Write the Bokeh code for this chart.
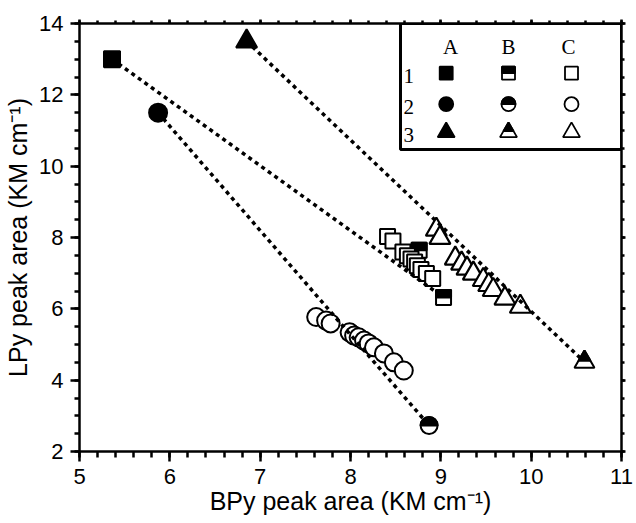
import numpy as np
from bokeh.plotting import figure
from bokeh.models import LinearAxis, SingleIntervalTicker, Range1d, CustomJSTickFormatter
from bokeh.core.properties import value
from bokeh.embed import file_html
from bokeh.resources import INLINE

# Series 1 = squares, 2 = circles, 3 = triangles
# A: starting point, B: end point, C: intermediate points
a_x = [5.36, 5.87, 6.85]
a_y = [13.00, 11.50, 13.50]

b_x = [9.03, 8.87, 10.59]
b_y = [6.32, 2.73, 4.51]

# extra end-type point of series 1 inside the open-square cluster
b1_mid_x = [8.76]
b1_mid_y = [7.64]

c1_x = [8.41, 8.47, 8.58, 8.63, 8.67, 8.71, 8.74, 8.78, 8.84, 8.91]
c1_y = [8.03, 7.90, 7.59, 7.49, 7.40, 7.31, 7.21, 7.10, 6.99, 6.85]

c2_x = [7.62, 7.73, 7.78, 7.99, 8.04, 8.09, 8.15, 8.20, 8.26, 8.37, 8.48, 8.59]
c2_y = [5.77, 5.67, 5.59, 5.34, 5.25, 5.20, 5.11, 5.03, 4.92, 4.75, 4.50, 4.27]

c3_x = [8.95, 8.99, 9.16, 9.23, 9.29, 9.36, 9.47, 9.53, 9.58, 9.71, 9.88]
c3_y = [8.22, 7.99, 7.41, 7.27, 7.13, 6.99, 6.81, 6.67, 6.53, 6.29, 6.06]

legend_cols = ["A", "B", "C"]
legend_rows = ["1", "2", "3"]
row_markers = ["square", "circle", "triangle"]

x_label = "BPy peak area (KM cm\u207b\u00b9)"
y_label = "LPy peak area (KM cm\u207b\u00b9)"

# ---------------------------------------------------------------- figure
FW, FH = 542, 428
X_LO, X_HI, Y_LO, Y_HI = 5, 11, 2, 14
SX = (X_HI - X_LO) / FW   # data units per screen pixel
SY = (Y_HI - Y_LO) / FH

p = figure(frame_width=FW, frame_height=FH,
           x_range=Range1d(X_LO, X_HI), y_range=Range1d(Y_LO, Y_HI),
           output_backend="svg", toolbar_location=None,
           min_border_left=79, min_border_right=15,
           min_border_top=23, min_border_bottom=72,
           background_fill_color="white", border_fill_color="white")
p.outline_line_color = None
p.grid.visible = False

SANS = "Liberation Sans"
KEY_FONT = "Liberation Serif"


def x_ticker():
    return SingleIntervalTicker(interval=1, num_minor_ticks=5)


def y_ticker():
    return SingleIntervalTicker(interval=2, num_minor_ticks=4)


def style_axis(ax, major_out, minor_out, labels=True, standoff=7):
    ax.axis_line_width = 2.5
    ax.axis_line_color = "black"
    ax.major_tick_line_width = 2.5
    ax.minor_tick_line_width = 2.5
    ax.major_tick_line_color = "black"
    ax.minor_tick_line_color = "black"
    ax.major_tick_in = 0
    ax.minor_tick_in = 0
    ax.major_tick_out = major_out
    ax.minor_tick_out = minor_out
    if labels:
        ax.major_label_text_font = SANS
        ax.major_label_text_font_size = "22px"
        ax.major_label_text_color = "black"
        ax.major_label_standoff = standoff
        ax.axis_label_text_font = SANS
        ax.axis_label_text_font_size = "25px"
        ax.axis_label_text_font_style = "normal"
        ax.axis_label_text_color = "black"
    else:
        # mirror axis: ticks only
        ax.formatter = CustomJSTickFormatter(code="return ''")
        ax.major_label_standoff = 0


xa = p.xaxis[0]
xa.ticker = x_ticker()
xa.axis_label = x_label
style_axis(xa, 10, 6, standoff=7)
xa.axis_label_standoff = 0

ya = p.yaxis[0]
ya.ticker = y_ticker()
ya.axis_label = y_label
style_axis(ya, 9, 5, standoff=7)
ya.axis_label_standoff = 4

top_ax = LinearAxis(ticker=x_ticker())
style_axis(top_ax, 4, 3, labels=False)
p.add_layout(top_ax, "above")

right_ax = LinearAxis(ticker=y_ticker())
style_axis(right_ax, 4, 3, labels=False)
p.add_layout(right_ax, "right")


# ---------------------------------------------------------------- markers
def draw_marker(kind, style, xs, ys, size, lw):
    """style 'A' = filled, 'B' = upper half filled, 'C' = open."""
    fill = "black" if style == "A" else "white"
    p.scatter(list(xs), list(ys), marker=kind, size=size,
              fill_color=fill, line_color="black", line_width=lw)
    if style != "B":
        return
    r = size / 2
    if kind == "circle":
        p.wedge(x=list(xs), y=list(ys), radius=r, radius_units="screen",
                start_angle=0, end_angle=np.pi,
                fill_color="black", line_color="black", line_width=lw)
    elif kind == "square":
        pxs = [[x - r * SX, x + r * SX, x + r * SX, x - r * SX] for x in xs]
        pys = [[y, y, y + r * SY, y + r * SY] for y in ys]
        p.patches(pxs, pys, fill_color="black", line_color="black", line_width=lw)
    elif kind == "triangle":
        h = r * np.sqrt(3)
        f = 0.6
        apex = 2 * h / 3
        lvl = apex - f * h
        pxs = [[x, x - f * r * SX, x + f * r * SX] for x in xs]
        pys = [[y + apex * SY, y + lvl * SY, y + lvl * SY] for y in ys]
        p.patches(pxs, pys, fill_color="black", line_color="black", line_width=lw)


# open intermediate points
draw_marker("square", "B", b1_mid_x, b1_mid_y, 15, 2.0)
draw_marker("square", "C", c1_x, c1_y, 15, 2.0)
draw_marker("circle", "C", c2_x, c2_y, 18, 2.0)
draw_marker("triangle", "C", c3_x, c3_y, 21, 2.2)

# dotted connections from start to end point of each series
p.multi_line(xs=[[a_x[i], b_x[i]] for i in range(3)],
             ys=[[a_y[i], b_y[i]] for i in range(3)],
             line_color="black", line_width=3.5, line_dash="4 4")

# start and end points
sizes = {"square": 16, "circle": 18, "triangle": 21}
for i, kind in enumerate(row_markers):
    draw_marker(kind, "A", [a_x[i]], [a_y[i]], sizes[kind], 2.0)
    draw_marker(kind, "B", [b_x[i]], [b_y[i]], sizes[kind] - 1, 2.0)


# ---------------------------------------------------------------- key table
def dx(px):
    return X_LO + px * SX


def dy(py):
    return Y_HI - py * SY


box_left, box_bottom = 321, 126
p.quad(left=[dx(box_left)], right=[X_HI], top=[Y_HI], bottom=[dy(box_bottom)],
       fill_color="white", line_color="black", line_width=3)

col_px = [366.7, 429.0, 492.0]
head_px = [371.0, 429.0, 489.0]
row_py = [49.7, 80.7, 108.7]

p.text(x=[dx(v) for v in head_px], y=[dy(23.7)] * 3, text=legend_cols,
       text_font=value(KEY_FONT), text_font_size="21px", text_color="black",
       text_align="center", text_baseline="middle")
p.text(x=[dx(box_left + 3)] * 3, y=[dy(v + 3) for v in row_py], text=legend_rows,
       text_font=value(KEY_FONT), text_font_size="21px", text_color="black",
       text_align="left", text_baseline="middle")

key_sizes = {"square": 13, "circle": 14, "triangle": 17}
for r_i, kind in enumerate(row_markers):
    for c_i, style in enumerate(legend_cols):
        draw_marker(kind, style, [dx(col_px[c_i])], [dy(row_py[r_i])],
                    key_sizes[kind], 1.8)

open("out.html", "w").write(file_html(p, INLINE))
